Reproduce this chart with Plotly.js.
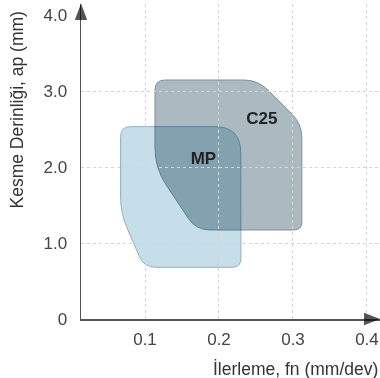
<!DOCTYPE html>
<html>
<head>
<meta charset="utf-8">
<script src="https://cdn.plot.ly/plotly-3.0.1.min.js"></script>
<style>html,body{margin:0;padding:0;background:#fff;}</style>
</head>
<body>
<div id="chart" style="width:380px;height:378px;"></div>
<script>
// ---- data ----
const seriesNames = ['C25', 'MP'];
// outline corners (feed fn, depth ap)
const c25X = [0.1135, 0.2527, 0.312, 0.312, 0.169, 0.1135];
const c25Y = [3.145, 3.145, 2.566, 1.171, 1.171, 1.987];
const mpX = [0.067, 0.2293, 0.2297, 0.0986, 0.067];
const mpY = [2.531, 2.531, 0.680, 0.680, 1.395];
const labelX = [0.258, 0.179];
const labelY = [2.622, 2.092];
const xTickVals = [0.1, 0.2, 0.3, 0.4];
const xTickText = ['0.1', '0.2', '0.3', '0.4'];
const yTickVals = [0, 1, 2, 3, 4];
const yTickText = ['0', '1.0', '2.0', '3.0', '4.0'];
const yGridVals = [1, 2, 3];

// ---- styling ----
const W = 380, H = 378;
const M = {l: 81, r: 0, t: 4, b: 59};
const xRange = [0.0135, 0.4176];
const yRange = [0, 4.145];
const sx = (W - M.l - M.r) / (xRange[1] - xRange[0]);
const sy = (H - M.t - M.b) / (yRange[1] - yRange[0]);
const c25Radii = [10, 14, 14, 8, 14, 20];
const mpRadii = [10, 26, 9, 12, 16];

function roundedPath(xs, ys, rs) {
  const n = xs.length;
  const P = xs.map((x, i) => [x * sx, ys[i] * sy]);
  const ins = [], outs = [];
  for (let i = 0; i < n; i++) {
    const a = P[(i - 1 + n) % n], v = P[i], b = P[(i + 1) % n];
    const la = Math.hypot(a[0] - v[0], a[1] - v[1]);
    const lb = Math.hypot(b[0] - v[0], b[1] - v[1]);
    const r = Math.min(rs[i], la / 2, lb / 2);
    ins.push([v[0] + (a[0] - v[0]) / la * r, v[1] + (a[1] - v[1]) / la * r]);
    outs.push([v[0] + (b[0] - v[0]) / lb * r, v[1] + (b[1] - v[1]) / lb * r]);
  }
  const f = p => (p[0] / sx).toFixed(5) + ',' + (p[1] / sy).toFixed(5);
  let d = 'M' + f(outs[0]);
  for (let k = 1; k <= n; k++) {
    const i = k % n;
    d += ' L' + f(ins[i]) + ' Q' + f(P[i]) + ' ' + f(outs[i]);
  }
  return d + ' Z';
}

const font = 'Liberation Sans, Arial, Helvetica, sans-serif';

const traces = [{
  type: 'scatter', mode: 'text',
  x: labelX, y: labelY, text: seriesNames,
  textfont: {family: font, size: 17, color: '#222', weight: 'bold'},
  hoverinfo: 'skip', showlegend: false, yaxis: 'y2'
}];

const gridCol = '#d4d4d4';
const layout = {
  width: W, height: H, margin: M,
  paper_bgcolor: '#fff', plot_bgcolor: '#fff',
  showlegend: false,
  xaxis: {
    range: xRange, tickmode: 'array', tickvals: xTickVals, ticktext: xTickText,
    showgrid: true, gridcolor: gridCol, gridwidth: 1, griddash: 'dot',
    zeroline: false, showline: true, linecolor: '#555', linewidth: 1.5,
    ticks: '', ticklabelstandoff: 4,
    tickfont: {family: font, size: 17, color: '#444'}
  },
  yaxis: {
    range: yRange, tickmode: 'array', tickvals: yTickVals, ticktext: yTickText,
    showgrid: false, zeroline: false, showline: true, linecolor: '#555', linewidth: 1.5,
    ticks: '', ticklabelstandoff: 9,
    tickfont: {family: font, size: 17, color: '#444'}
  },
  yaxis2: {
    overlaying: 'y', range: yRange, tickmode: 'array', tickvals: yGridVals,
    showticklabels: false, showgrid: true, gridcolor: gridCol, gridwidth: 1, griddash: 'dot',
    zeroline: false, showline: false, ticks: ''
  },
  shapes: [
    {type: 'path', xref: 'x', yref: 'y', layer: 'below',
     path: roundedPath(c25X, c25Y, c25Radii),
     fillcolor: 'rgb(170,186,192)', line: {color: 'rgb(128,144,154)', width: 1}},
    {type: 'path', xref: 'x', yref: 'y', layer: 'below',
     path: roundedPath(mpX, mpY, mpRadii),
     fillcolor: 'rgb(197,222,234)', line: {color: 'rgb(146,176,194)', width: 1}},
    {type: 'path', xref: 'paper', yref: 'paper', layer: 'above',
     path: 'M-0.0207,0.949 L0.0207,0.949 L0,1.0016 Z', fillcolor: '#555', line: {width: 0}},
    {type: 'path', xref: 'paper', yref: 'paper', layer: 'above',
     path: 'M0.9465,-0.020 L0.9465,0.020 L1.0,0 Z', fillcolor: '#555', line: {width: 0}}
  ],
  annotations: [
    {text: 'Kesme Derinliği, ap (mm)', xref: 'paper', yref: 'paper',
     x: -0.214, y: 0.662, xanchor: 'center', yanchor: 'middle', textangle: -90,
     showarrow: false, font: {family: font, size: 17.5, color: '#333'}},
    {text: 'İlerleme, fn (mm/dev)', xref: 'paper', yref: 'paper',
     x: 1.0, y: -0.159, xanchor: 'right', yanchor: 'middle',
     showarrow: false, font: {family: font, size: 17.5, color: '#333'}}
  ]
};

Plotly.newPlot('chart', traces, layout, {displayModeBar: false, staticPlot: true}).then(() => {
  document.querySelectorAll('.shapelayer path').forEach(p => {
    p.style.mixBlendMode = 'multiply';
    let g = p.parentNode;
    if (g && !g.classList.contains('shapelayer')) g.style.mixBlendMode = 'multiply';
  });
  document.querySelectorAll('.shapelayer').forEach(g => { g.style.isolation = 'auto'; });
});
</script>
</body>
</html>
